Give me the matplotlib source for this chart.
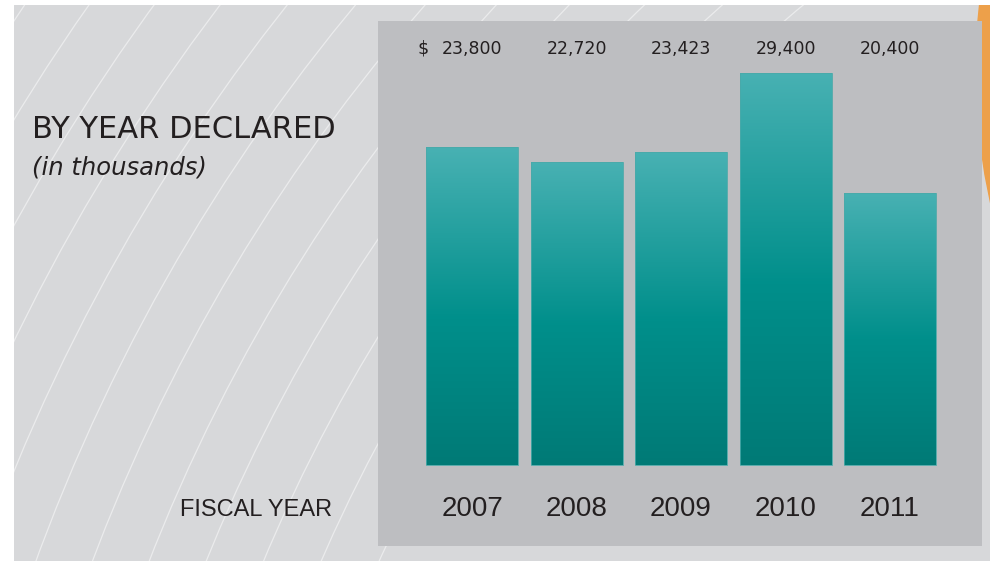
import numpy as np
import matplotlib.pyplot as plt
from matplotlib.colors import LinearSegmentedColormap
from matplotlib.patches import Circle, Arc

# data
years = ['2007', '2008', '2009', '2010', '2011']
declared = [23800, 22720, 23423, 29400, 20400]
value_labels = ['23,800', '22,720', '23,423', '29,400', '20,400']

txt = '#231f20'
narrow = 'Liberation Sans'
fig = plt.figure(figsize=(9.9, 5.61), dpi=100)
fig.patch.set_facecolor('white')

# background with white arcs, pixel coordinates
bg = fig.add_axes([14/990, 0, 976/990, 556/561])
bg.set_xlim(14, 990)
bg.set_ylim(561, 5)
bg.axis('off')
bg.add_patch(plt.Rectangle((14, 5), 976, 556, color='#d7d8da', zorder=0))
for r in [1560, 1613, 1666, 1719, 1772, 1825, 1878, 1931, 1984, 2037, 2090, 2143, 2196]:
    bg.add_patch(Arc((1800, 1205), 2*r, 2*r, theta1=90, theta2=270,
                     color='white', lw=0.9, alpha=0.5, zorder=1))
bg.add_patch(Circle((1586, 70), 610, color='#eda04a', zorder=2))

# bar panel
ax = fig.add_axes([378/990, 15/561, 604/990, 525/561])
ax.set_facecolor('#bdbec1')
for s in ax.spines.values():
    s.set_visible(False)
ax.set_xticks([])
ax.set_yticks([])

x = np.arange(len(years))
w = 0.88
cmap = LinearSegmentedColormap.from_list('teal', [(0, '#007a76'), (0.46, '#008f8b'), (1, '#48b1b3')])
grad = np.linspace(0, 1, 256).reshape(-1, 1)
bars = ax.bar(x, declared, width=w, color='none', edgecolor='#4aa9a9', linewidth=0.6, zorder=3)
for b in bars:
    im = ax.imshow(grad, cmap=cmap, origin='lower', aspect='auto', zorder=2,
                   extent=[b.get_x(), b.get_x() + b.get_width(), 0, b.get_height()])
    im.set_clip_path(b)

ax.set_xlim(-0.9, 4.88)
ax.set_ylim(-6067, 33258)

tr = ax.get_xaxis_transform()
for i in range(len(years)):
    ax.text(x[i], 0.0705, years[i], transform=tr, ha='center', va='center',
            fontsize=20, family=narrow, color=txt)
    ax.text(x[i], 0.947, value_labels[i], transform=tr, ha='center', va='center',
            fontsize=12.5, color=txt)
ax.annotate('$', xy=(x[0], 0.947), xycoords=tr, xytext=(-31, 0), textcoords='offset points',
            ha='right', va='center', fontsize=12.5, color=txt)

fig.text(32/990, 1 - 130/561, 'BY YEAR DECLARED', va='center', ha='left', fontsize=22, color=txt)
fig.text(32/990, 1 - 168/561, '(in thousands)', va='center', ha='left', fontsize=17.5,
         style='italic', color=txt)
fig.text(332/990, 1 - 510/561, 'FISCAL YEAR', va='center', ha='right', fontsize=17,
         family=narrow, color=txt)

fig.savefig('out.png', dpi=100)
